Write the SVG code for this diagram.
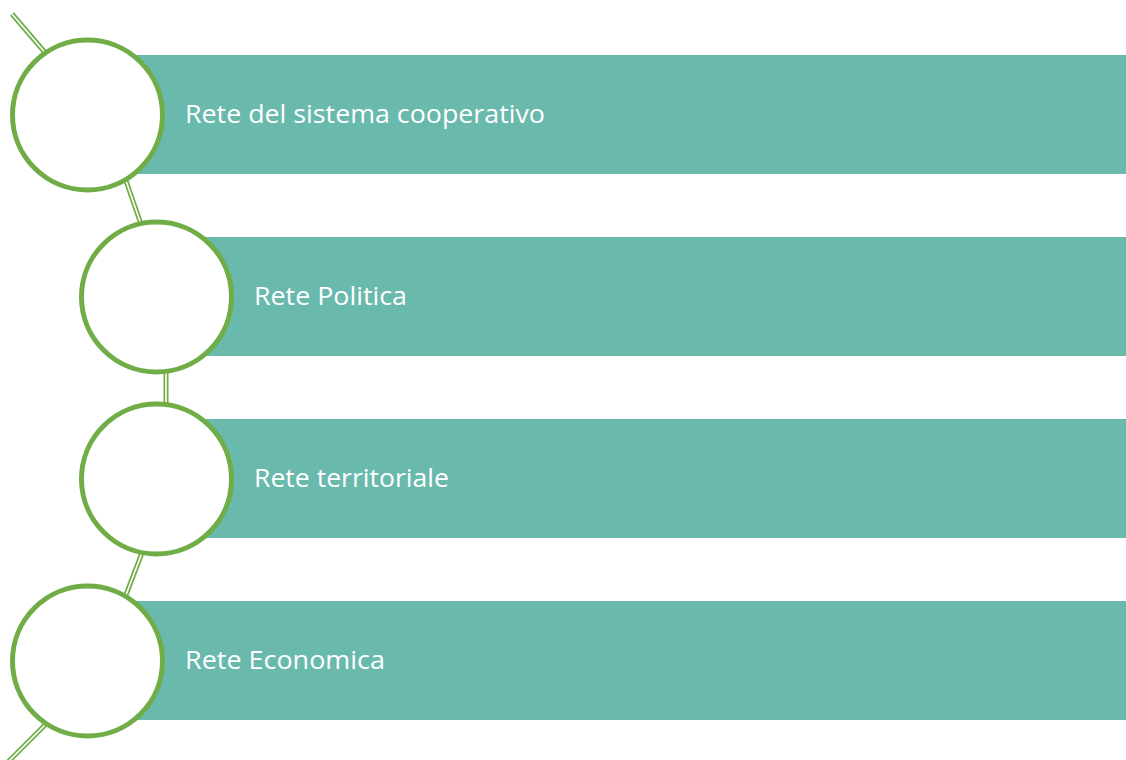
<svg xmlns="http://www.w3.org/2000/svg" width="1126" height="760" viewBox="0 0 1126 760">
<style>
.bar{fill:#6ab9ad}
.c{fill:#fff;stroke:#70ad47;stroke-width:5}
.lo{stroke:#70ad47;stroke-width:5;fill:none}
.li{stroke:#fff;stroke-width:1.6;fill:none}
.t{fill:#fff;font-family:"Open Sans","Noto Sans",sans-serif;font-size:26px}
</style>
<rect width="1126" height="760" fill="#fff"/>
<g id="bars">
<rect class="bar" x="88" y="55" width="1038" height="119"/>
<rect class="bar" x="157" y="237" width="969" height="119"/>
<rect class="bar" x="157" y="419" width="969" height="119"/>
<rect class="bar" x="88" y="601" width="1038" height="119"/>
</g>
<g id="connectors">
<path class="lo" d="M12,14 L48,56 M124,175 L143,230 M166,365 L166,410 M145,545 L124,600 M50,720 L8,762"/>
<path class="li" d="M12,14 L48,56 M124,175 L143,230 M166,365 L166,410 M145,545 L124,600 M50,720 L8,762"/>
</g>
<g id="node1">
<circle class="c" cx="87.5" cy="115" r="75"/>
<text class="t" x="185" y="122.5" textLength="360" lengthAdjust="spacingAndGlyphs">Rete del sistema cooperativo</text>
</g>
<g id="node2">
<circle class="c" cx="156.5" cy="297" r="75"/>
<text class="t" x="254" y="304.5" textLength="153" lengthAdjust="spacingAndGlyphs">Rete Politica</text>
</g>
<g id="node3">
<circle class="c" cx="156.5" cy="479" r="75"/>
<text class="t" x="254" y="486.5" textLength="195" lengthAdjust="spacingAndGlyphs">Rete territoriale</text>
</g>
<g id="node4">
<circle class="c" cx="87.5" cy="661" r="75"/>
<text class="t" x="185" y="668.5" textLength="200" lengthAdjust="spacingAndGlyphs">Rete Economica</text>
</g>
</svg>
